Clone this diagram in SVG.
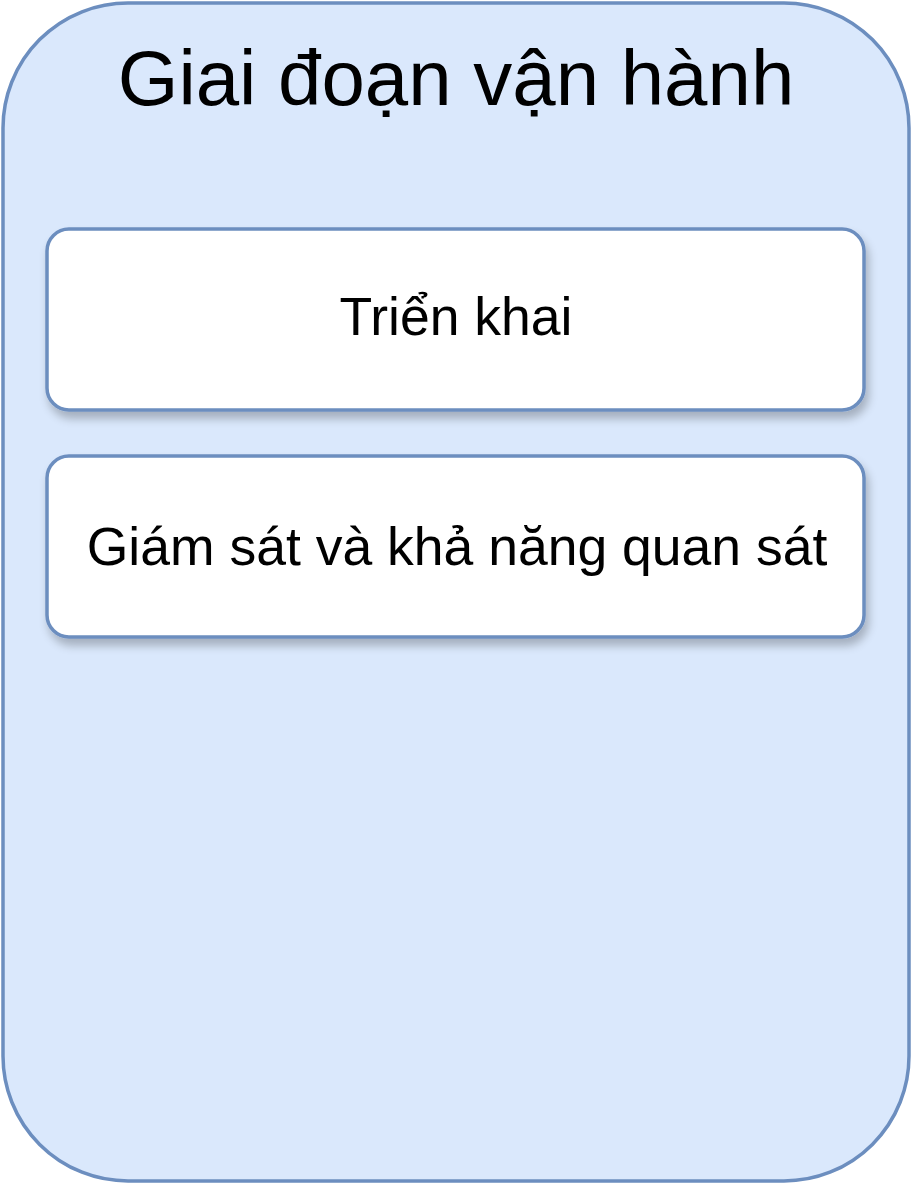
<svg xmlns="http://www.w3.org/2000/svg" width="912" height="1184" viewBox="0 0 912 1184">
  <style>
    .container { fill: #dae8fc; stroke: #6c8ebf; stroke-width: 3.5; }
    .node { fill: #ffffff; stroke: #6c8ebf; stroke-width: 3.5; filter: url(#shadow); }
    .title { font-family: "Liberation Sans", Arial, sans-serif; font-size: 78px; fill: #000000; text-anchor: middle; }
    .label { font-family: "Liberation Sans", Arial, sans-serif; font-size: 53.5px; fill: #000000; text-anchor: middle; }
  </style>
  <defs>
    <filter id="shadow" x="-10%" y="-20%" width="120%" height="150%">
      <feGaussianBlur in="SourceAlpha" stdDeviation="5"/>
      <feOffset dx="3" dy="7" result="b"/>
      <feComponentTransfer><feFuncA type="linear" slope="0.25"/></feComponentTransfer>
      <feMerge><feMergeNode/><feMergeNode in="SourceGraphic"/></feMerge>
    </filter>
  </defs>
  <g id="container-operation">
    <rect class="container" x="3" y="3" width="906" height="1178" rx="125" ry="125"/>
    <text class="title" x="456" y="105">Giai đoạn vận hành</text>
  </g>
  <g id="node-deploy">
    <rect class="node" x="47" y="229" width="817" height="181" rx="22" ry="22"/>
    <text class="label" x="456" y="335">Triển khai</text>
  </g>
  <g id="node-monitoring">
    <rect class="node" x="47" y="456" width="817" height="181" rx="22" ry="22"/>
    <text class="label" x="457" y="565">Giám sát và khả năng quan sát</text>
  </g>
  <g id="connectors"></g>
</svg>
